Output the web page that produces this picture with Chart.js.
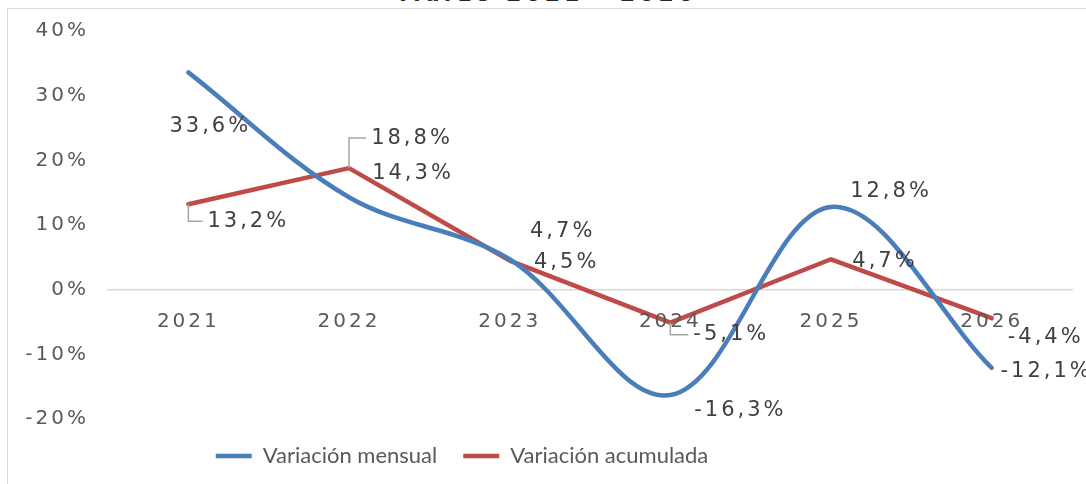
<!DOCTYPE html>
<html>
<head>
<meta charset="utf-8">
<script src="https://cdn.jsdelivr.net/npm/chart.js@4.4.1/dist/chart.umd.min.js"></script>
<style>
  html, body { margin: 0; padding: 0; background: #fff; overflow: hidden; }
  #wrap { position: relative; width: 1086px; height: 484px; overflow: hidden; }
  #frame { position: absolute; left: 7px; top: 8px; right: 0; bottom: 0;
           border-left: 1px solid #d9d9d9; border-top: 1px solid #d9d9d9; }
  #title { position: absolute; left: 0; width: 1096px; top: -19px; text-align: center;
           font: bold 22px "DejaVu Sans"; letter-spacing: 4px; color: #262626; line-height: 26px; }
  canvas { position: absolute; left: 0; top: 0; }
</style>
</head>
<body>
<div id="wrap">
  <div id="frame"></div>
  <div id="title">Marzo 2021 - 2026</div>
  <canvas id="chart" width="1086" height="490"></canvas>
</div>
<script>
// datos
const years = ['2021', '2022', '2023', '2024', '2025', '2026'];
const mensual = [33.6, 14.3, 4.7, -16.3, 12.8, -12.1];
const acumulada = [13.2, 18.8, 4.5, -5.1, 4.7, -4.4];
const seriesNames = ['Variación mensual', 'Variación acumulada'];
const yTicks = { min: -20, max: 40, step: 10 };

// posicion de las etiquetas respecto al punto (dx, dy, linea guia)
const mensualLabelPos = [[22, 54], [64, -24], [53, -28], [70, 15], [60, -15], [55, 4]];
const acumuladaLabelPos = [[60, 17, true], [63, -30, true], [57, 2], [61, 12, true], [54, 2], [54, 19]];

const BLUE = '#4a7ebb';
const RED = '#be4b48';
const SPACING = '3px';

const fmt = v => v.toFixed(1).replace('.', ',') + '%';

const dataLabels = {
  id: 'dataLabels',
  beforeDraw(chart) {
    chart.ctx.letterSpacing = '0px';
  },
  afterDatasetsDraw(chart) {
    const ctx = chart.ctx;
    const positions = [mensualLabelPos, acumuladaLabelPos];
    ctx.save();
    ctx.letterSpacing = SPACING;
    ctx.font = '21px "DejaVu Sans"';
    ctx.fillStyle = '#404040';
    ctx.textAlign = 'center';
    ctx.textBaseline = 'middle';
    chart.data.datasets.forEach((ds, di) => {
      const meta = chart.getDatasetMeta(di);
      meta.data.forEach((pt, i) => {
        const [dx, dy, leader] = positions[di][i];
        const txt = fmt(ds.data[i]);
        const tx = pt.x + dx, ty = pt.y + dy;
        if (leader) {
          const w = ctx.measureText(txt).width;
          ctx.beginPath();
          ctx.strokeStyle = '#a6a6a6';
          ctx.lineWidth = 1.5;
          ctx.moveTo(pt.x, pt.y);
          ctx.lineTo(pt.x, ty);
          ctx.lineTo(tx - w / 2 - 5, ty);
          ctx.stroke();
        }
        ctx.fillText(txt, tx, ty);
      });
    });
    ctx.restore();
    // las etiquetas de los ejes se dibujan despues, con el mismo espaciado
    ctx.letterSpacing = SPACING;
  },
  afterDraw(chart) {
    chart.ctx.letterSpacing = '0px';
  },
  afterLayout(chart) {
    const lg = chart.legend;
    if (lg) { lg.left -= 78; lg.right -= 78; }
  }
};

const ctx = document.getElementById('chart').getContext('2d');
new Chart(ctx, {
  type: 'line',
  data: {
    labels: years,
    datasets: [{
      label: seriesNames[0],
      data: mensual,
      borderColor: BLUE,
      backgroundColor: BLUE,
      borderWidth: 4.5,
      borderCapStyle: 'round',
      tension: 0.35,
      pointRadius: 0,
      pointStyle: 'line'
    }, {
      label: seriesNames[1],
      data: acumulada,
      borderColor: RED,
      backgroundColor: RED,
      borderWidth: 4.5,
      borderCapStyle: 'round',
      borderJoinStyle: 'round',
      tension: 0,
      pointRadius: 0,
      pointStyle: 'line'
    }]
  },
  options: {
    responsive: false,
    animation: false,
    devicePixelRatio: 1,
    layout: { padding: { top: 31, left: 8, right: 14, bottom: 13 } },
    plugins: {
      legend: {
        position: 'bottom',
        labels: {
          usePointStyle: true,
          pointStyleWidth: 36,
          padding: 26,
          color: '#595959',
          font: { family: 'Lato', size: 22 }
        }
      },
      tooltip: { enabled: false }
    },
    scales: {
      x: {
        offset: true,
        position: { y: 0 },
        grid: { display: false, offset: true },
        border: { display: true, color: '#d9d9d9', width: 1.5 },
        ticks: {
          z: 1,
          padding: 12,
          color: '#595959',
          font: { family: 'DejaVu Sans', size: 20 }
        }
      },
      y: {
        min: yTicks.min,
        max: yTicks.max,
        grid: { display: false },
        border: { display: false },
        afterFit: s => { s.width = 100; },
        ticks: {
          z: 1,
          stepSize: yTicks.step,
          padding: 11,
          color: '#595959',
          font: { family: 'DejaVu Sans', size: 20 },
          callback: v => v + '%'
        }
      }
    }
  },
  plugins: [dataLabels]
});
</script>
</body>
</html>
